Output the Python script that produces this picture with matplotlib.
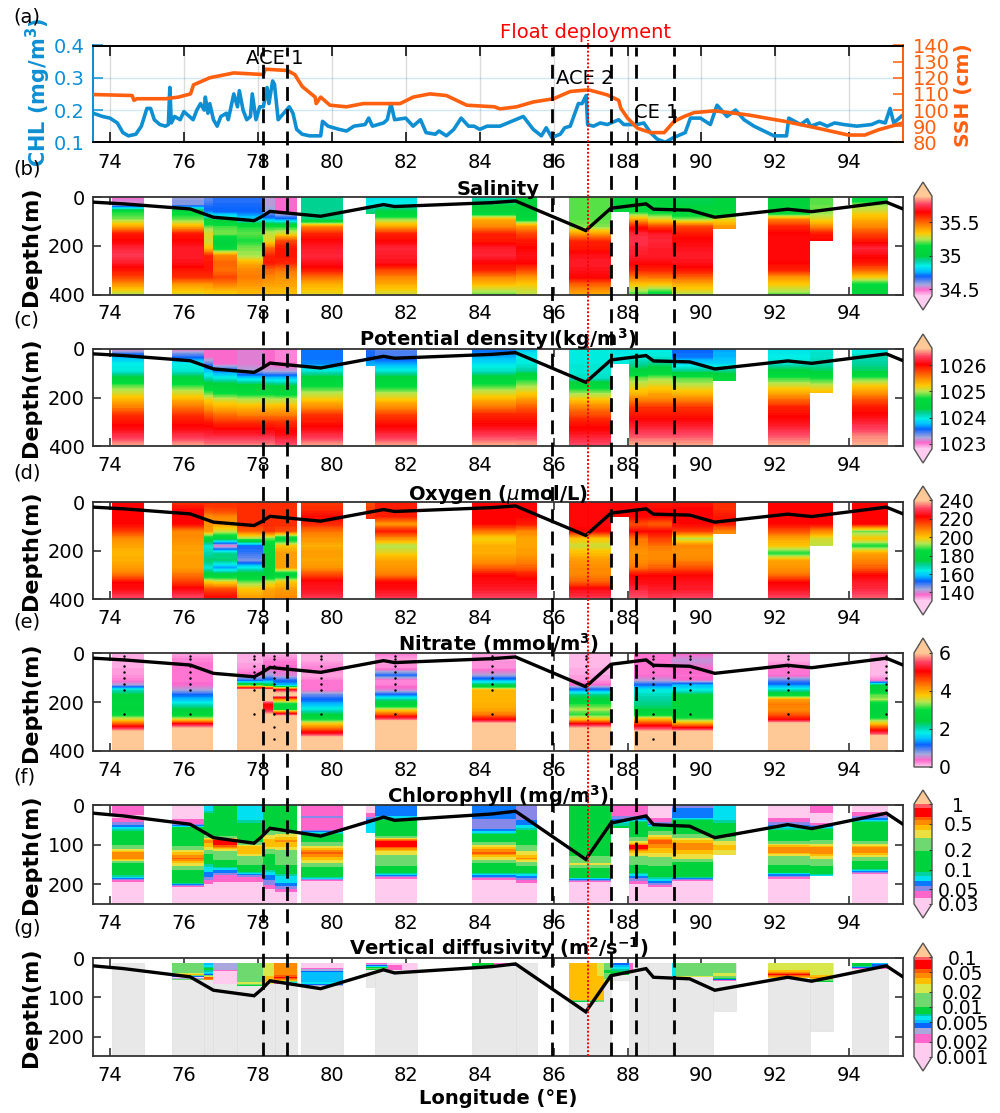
import numpy as np
import matplotlib
matplotlib.use("Agg")
import matplotlib.pyplot as plt
from matplotlib.colors import LinearSegmentedColormap, ListedColormap, BoundaryNorm, Normalize
from matplotlib.cm import ScalarMappable
from matplotlib.patches import Rectangle

# surface section (a)
CHL_LON = [73.55,73.8,74.0,74.2,74.35,74.5,74.7,74.85,75.0,75.1,75.2,75.35,75.5,75.58,75.62,75.66,75.75,75.9,76.0,76.15,76.25,76.35,76.45,76.55,76.58,76.65,76.7,76.8,76.9,77.0,77.15,77.2,77.35,77.45,77.5,77.6,77.7,77.8,77.85,77.95,78.05,78.15,78.25,78.3,78.4,78.45,78.55,78.7,78.85,78.95,79.05,79.2,79.4,79.6,79.7,79.75,79.9,80.2,80.4,80.6,80.9,81.0,81.1,81.4,81.5,81.6,81.7,82.0,82.2,82.4,82.55,82.8,82.9,83.1,83.3,83.5,83.7,83.85,84.0,84.2,84.55,85.18,85.45,85.67,85.8,85.95,86.18,86.3,86.45,86.67,86.77,86.88,86.92,87.08,87.26,87.45,87.76,87.9,88.26,88.44,88.62,88.8,89.02,89.25,89.56,89.7,89.97,90.24,90.42,90.69,90.92,91.15,91.42,91.69,91.96,92.3,92.36,92.68,92.86,92.95,93.2,93.4,93.6,93.85,94.2,94.6,94.8,94.97,95.1,95.2,95.45]
CHL_VAL = [.19,.18,.175,.16,.13,.12,.125,.15,.205,.205,.17,.155,.15,.155,.27,.16,.18,.17,.195,.18,.17,.2,.22,.2,.24,.19,.22,.17,.15,.18,.19,.17,.25,.21,.26,.2,.17,.18,.25,.17,.21,.21,.27,.22,.29,.28,.17,.19,.21,.19,.14,.125,.12,.12,.12,.165,.15,.14,.135,.15,.155,.175,.15,.16,.17,.22,.17,.175,.15,.17,.13,.125,.135,.12,.14,.175,.15,.15,.14,.15,.15,.18,.14,.12,.145,.115,.125,.145,.15,.22,.22,.245,.155,.15,.16,.155,.17,.155,.155,.16,.13,.11,.1,.115,.13,.175,.175,.155,.215,.18,.2,.17,.15,.135,.12,.12,.175,.155,.17,.15,.16,.15,.16,.155,.15,.155,.165,.16,.205,.16,.185]
SSH_LON = [73.55,74.6,74.65,74.73,75.5,75.85,76.18,76.26,76.7,77.35,78.15,78.2,78.8,79.0,79.2,79.55,79.58,79.7,79.95,80.4,80.85,81.85,82.2,82.65,83.1,83.65,84.4,84.55,85.0,85.45,86.0,86.45,86.95,87.45,87.76,87.82,88.0,88.27,88.63,88.99,89.26,89.53,89.8,90.35,91.25,92.25,93.15,93.97,94.42,94.78,95.45]
SSH_VAL = [109.6,109,106,107,107,108,110,115.6,120,123,122,125.3,124.5,122,114.6,108,104,108,103,102,104,104,108,110,109,103,102,100.7,102,105,107,111.5,112.5,109.4,106,101,95,88.7,86,86,93,96,98.4,99.5,97,93,88.7,84.5,84.5,87.7,92]

# mixed layer depth, black line on every section
MLD_LON = [73.55,74.37,76.17,76.8,77.9,78.1,78.33,79.7,81.4,81.7,84.33,84.97,86.87,87.55,88.5,88.7,89.68,90.36,92.33,92.98,95.0,95.45]
MLD_DEPTH = [20,27,48,82,96,80,58,78,30,38,22,15,137,45,27,49,53,82,49,59,20,48]

EDDY_LON = [78.15,78.8,85.95,87.55,88.22,89.25]
FLOAT_LON = 86.94

# profile columns shared by salinity, density, oxygen, chlorophyll
COL_WEST = [74.05,75.68,76.55,76.78,77.43,78.15,78.47,79.18,80.93,81.18,83.8,84.97,86.42,87.55,88.05,88.54,89.2,90.3,91.8,92.93,94.06]
COL_EAST = [74.93,76.55,76.78,77.43,78.15,78.47,79.05,80.31,81.18,82.3,84.97,85.55,87.55,88.05,88.54,89.2,90.3,90.93,92.93,93.55,95.05]
COL_BOTTOM = [400,400,400,400,400,400,400,400,70,400,400,400,400,60,400,400,400,130,400,180,400]

DEPTH_400 = [0,30,60,90,120,150,180,210,240,270,300,330,360,400]

SAL_VALUES = [
    [34.5,34.55,35.15,35.22,35.4,35.62,35.65,35.72,35.75,35.7,35.62,35.55,35.42,35.25],
    [34.58,34.6,35.12,35.2,35.38,35.62,35.65,35.7,35.7,35.68,35.62,35.58,35.42,35.3],
    [34.62,34.66,34.72,34.98,35.2,35.3,35.28,35.35,35.6,35.62,35.62,35.58,35.42,35.32],
    [34.66,34.68,34.7,34.95,35.18,35.22,35.0,35.1,35.45,35.5,35.48,35.55,35.45,35.32],
    [34.66,34.68,34.7,34.8,35.15,35.2,35.15,35.22,35.24,35.38,35.45,35.47,35.42,35.35],
    [34.56,34.56,34.58,34.75,35.15,35.27,35.3,35.5,35.6,35.62,35.5,35.45,35.4,35.35],
    [34.5,34.5,34.5,34.72,35.15,35.3,35.55,35.62,35.62,35.6,35.48,35.43,35.4,35.35],
    [34.93,34.93,34.93,34.95,35.45,35.6,35.66,35.7,35.72,35.68,35.62,35.48,35.38,35.3],
    [34.82,34.85,34.95,35.0],
    [34.83,34.85,35.02,35.22,35.4,35.6,35.65,35.72,35.7,35.68,35.55,35.45,35.38,35.28],
    [34.9,34.98,35.02,35.38,35.45,35.6,35.62,35.7,35.72,35.65,35.6,35.45,35.35,35.2],
    [35.0,35.0,35.0,35.1,35.42,35.55,35.62,35.65,35.68,35.65,35.55,35.42,35.33,35.25],
    [35.2,35.2,35.2,35.2,35.22,35.42,35.6,35.62,35.68,35.7,35.68,35.65,35.5,35.38],
    [35.0,35.02,35.05,35.1],
    [35.02,35.02,35.15,35.38,35.62,35.72,35.74,35.72,35.7,35.66,35.6,35.47,35.34,35.18],
    [35.02,35.02,35.12,35.3,35.55,35.7,35.72,35.7,35.7,35.66,35.6,35.48,35.33,35.1],
    [34.98,34.98,35.05,35.22,35.55,35.62,35.66,35.68,35.7,35.68,35.62,35.5,35.38,35.25],
    [35.02,35.02,35.05,35.3,35.42,35.45],
    [35.0,35.0,35.02,35.45,35.6,35.65,35.66,35.66,35.66,35.65,35.6,35.42,35.33,35.2],
    [35.2,35.2,35.22,35.3,35.45,35.62,35.65],
    [35.05,35.22,35.3,35.38,35.45,35.55,35.62,35.72,35.66,35.62,35.5,35.32,35.12,35.02],
]

DEN_VALUES = [
    [1023.05,1023.7,1023.95,1024.0,1024.4,1024.85,1025.1,1025.35,1025.55,1025.85,1025.98,1026.1,1026.3,1026.62],
    [1023.03,1023.5,1023.95,1024.02,1024.4,1024.8,1025.1,1025.35,1025.6,1025.85,1025.98,1026.1,1026.3,1026.6],
    [1023.03,1023.03,1023.4,1023.8,1024.1,1024.5,1024.85,1025.2,1025.45,1025.7,1025.95,1026.1,1026.25,1026.55],
    [1023.03,1023.03,1023.05,1023.6,1024.0,1024.45,1024.7,1025.1,1025.35,1025.6,1025.85,1026.05,1026.25,1026.55],
    [1023.1,1023.1,1023.1,1023.25,1023.85,1024.4,1024.65,1025.05,1025.3,1025.55,1025.85,1026.05,1026.25,1026.55],
    [1023.05,1023.05,1023.05,1023.2,1023.8,1024.35,1024.65,1025.05,1025.3,1025.55,1025.85,1026.05,1026.25,1026.55],
    [1022.98,1022.98,1023.0,1023.2,1023.8,1024.3,1024.6,1025.05,1025.3,1025.55,1025.85,1026.0,1026.15,1026.45],
    [1023.58,1023.6,1023.62,1024.0,1024.45,1024.7,1025.0,1025.25,1025.5,1025.85,1025.95,1026.1,1026.3,1026.6],
    [1023.5,1023.55,1023.7,1023.8],
    [1023.4,1023.45,1023.7,1024.0,1024.45,1024.65,1025.0,1025.25,1025.5,1025.8,1025.95,1026.1,1026.3,1026.6],
    [1023.55,1023.7,1023.9,1024.05,1024.45,1024.8,1025.1,1025.35,1025.6,1025.9,1026.0,1026.15,1026.35,1026.62],
    [1023.8,1023.95,1024.0,1024.15,1024.7,1024.95,1025.2,1025.45,1025.7,1025.9,1026.0,1026.15,1026.35,1026.6],
    [1024.0,1024.0,1024.0,1024.02,1024.05,1024.6,1024.95,1025.25,1025.55,1025.75,1025.95,1026.05,1026.2,1026.4],
    [1023.9,1023.95,1024.0,1024.0],
    [1023.95,1023.98,1024.15,1024.4,1024.9,1025.1,1025.3,1025.55,1025.85,1025.95,1026.1,1026.25,1026.4,1026.62],
    [1023.95,1024.0,1024.2,1024.5,1024.95,1025.15,1025.35,1025.55,1025.85,1025.95,1026.1,1026.25,1026.4,1026.62],
    [1023.55,1023.6,1023.85,1024.2,1024.85,1025.05,1025.3,1025.55,1025.85,1025.95,1026.1,1026.25,1026.4,1026.6],
    [1023.7,1023.72,1023.85,1024.2,1024.55,1024.7],
    [1023.9,1023.95,1024.05,1024.4,1024.8,1025.1,1025.35,1025.65,1025.92,1026.0,1026.1,1026.25,1026.4,1026.6],
    [1024.02,1024.05,1024.1,1024.3,1024.75,1025.05,1025.3],
    [1023.9,1024.1,1024.15,1024.3,1024.85,1025.2,1025.45,1025.75,1025.95,1026.05,1026.2,1026.35,1026.5,1026.62],
]

OXY_VALUES = [
    [222,222,222,222,216,207,204,202,203,205,210,222,224,232],
    [217,222,222,222,208,207,205,204,205,205,210,216,224,232],
    [218,215,207,207,205,180,165,168,172,165,178,200,215,224],
    [217,216,208,205,195,178,138,170,172,156,178,198,215,224],
    [218,218,218,218,212,192,152,150,146,164,178,190,200,206],
    [218,218,218,218,216,190,180,180,178,178,176,195,204,206],
    [218,218,218,218,214,178,200,205,205,205,178,200,205,208],
    [216,218,222,218,210,206,203,205,204,206,215,224,225,230],
    [214,216,218,218],
    [219,219,219,206,220,206,193,198,204,206,209,222,224,230],
    [222,222,222,222,210,198,203,203,206,212,222,224,226,232],
    [222,222,222,220,208,204,204,205,208,212,220,224,226,232],
    [223,223,223,223,222,200,195,201,205,207,208,212,224,230],
    [222,222,222,222],
    [222,222,222,214,222,210,208,206,207,210,222,224,228,233],
    [220,222,222,212,222,216,210,207,208,212,222,224,226,230],
    [221,222,222,222,216,194,208,206,208,214,222,225,226,232],
    [218,218,220,220,208,206],
    [222,222,222,222,214,204,200,186,204,206,210,222,225,232],
    [222,222,222,222,208,196,194],
    [222,222,222,222,190,200,186,204,208,212,222,226,228,234],
]

# nitrate
NIT_WEST = [74.05,75.68,77.43,78.15,78.4,79.18,81.18,83.8,86.42,88.17,89.2,91.8,94.55]
NIT_EAST = [74.93,76.78,78.15,78.4,79.05,80.31,82.3,84.97,87.55,89.2,90.3,92.93,95.05]
NIT_BOTTOM = [400,400,400,400,400,400,400,400,400,400,400,400,400]
NIT_DEPTH = [0,30,60,90,110,130,150,170,190,210,230,250,270,290,310,330,350,400]
NIT_VALUES = [
    [.1,.12,.15,.2,.3,.7,2.0,2.4,2.6,2.7,2.6,2.9,3.6,4.6,5.6,6.5,7],
    [.15,.3,.32,.32,.33,.4,.65,1.2,1.5,2.0,2.4,2.7,3.6,5.2,6.2,7],
    [.1,.12,.2,.4,1.1,3.0,6.5,7],
    [.1,.3,.4,.7,1.3,2.6,6.3,7,6.2,5.0,5.2,6.0,7],
    [.1,.3,.4,.5,1.1,1.5,5.3,6.5,4.0,2.8,3.0,5.5,7],
    [.15,.15,.3,.15,.3,.35,.35,.9,1.2,1.5,1.9,2.4,3.0,3.8,4.5,5.3,6.5,7],
    [.3,.15,.25,1.1,.3,.3,.5,1.2,2.2,2.6,3.6,4.5,5.6,7],
    [.15,.2,.25,.7,1.4,2.4,3.9,3.9,3.9,3.95,4.0,4.3,5.0,6.2,7],
    [.1,.1,.1,.15,.2,.4,1.3,2.2,2.5,3.1,3.4,3.1,3.8,5.2,6.2,7],
    [.3,.35,.35,.35,.6,1.2,1.8,2.0,2.1,2.2,2.4,2.8,3.9,4.8,5.6,6.5,7],
    [.35,.6,.4,.35,.4,1.5,1.8,2.4,2.5,2.5,2.5,2.5,3.2,4.2,5.4,6.8,7],
    [.15,.15,.3,.35,.9,1.3,2.0,2.8,4.1,4.3,4.2,4.5,5.0,6.4,7],
    [.1,.1,.1,.1,.3,2.4,2.6,3.2,3.4,2.6,2.5,2.5,3.2,3.9,4.8,5.6,6.8,7],
]
NIT_SAMPLE_LON = [74.37,76.17,77.9,78.45,79.7,81.7,84.33,86.87,88.7,89.68,92.33,95.0]
NIT_SAMPLE_DEPTH = [10,25,50,75,100,125,150,250]
NIT_EXTRA_LON = [78.45,78.45,88.7]
NIT_EXTRA_DEPTH = [300,350,350]

# chlorophyll
CHL_DEPTH = [0,15,30,45,60,75,90,105,120,135,150,165,180,195,210,225,250]
CHL_BOTTOM = [250,250,250,250,250,250,250,250,70,250,250,250,250,58,250,250,250,127,250,178,250]
CHL_VALUES = [
    [.042,.042,.035,.05,.08,.13,.14,.22,.52,.5,.15,.13,.085,.035,.025],
    [.033,.033,.035,.042,.12,.14,.14,.2,.42,.58,.35,.17,.13,.12,.025],
    [.07,.08,.12,.13,.13,.18,.55,.4,.22,.13,.09,.07,.06,.042,.03,.025],
    [.12,.12,.12,.12,.12,.14,.75,.6,.25,.22,.12,.065,.045,.038,.025],
    [.075,.075,.075,.09,.12,.12,.14,.42,.45,.22,.2,.12,.05,.038,.025],
    [.12,.12,.12,.12,.14,.3,.45,.4,.2,.15,.13,.09,.06,.055,.04,.025],
    [.12,.12,.12,.12,.13,.35,.5,.42,.22,.22,.2,.11,.08,.07,.052,.03,.025],
    [.042,.042,.05,.04,.042,.1,.16,.35,.62,.45,.25,.13,.12,.025],
    [.033,.033,.05,.075,.08,.08],
    [.058,.06,.07,.12,.14,.14,.7,.65,.35,.22,.21,.14,.05,.025],
    [.065,.065,.06,.05,.055,.1,.15,.4,.62,.35,.16,.12,.06,.03,.025],
    [.055,.055,.055,.06,.085,.12,.14,.22,.35,.5,.22,.13,.065,.04,.025],
    [.13,.13,.13,.13,.13,.13,.13,.14,.16,.22,.33,.14,.12,.035,.025],
    [.042,.042,.05,.08,.1,.1],
    [.042,.042,.05,.1,.13,.14,.3,.8,.4,.25,.2,.13,.065,.045,.025],
    [.033,.033,.035,.05,.14,.3,.65,.5,.42,.25,.22,.13,.1,.06,.035,.025],
    [.055,.06,.065,.12,.13,.2,.45,.55,.42,.3,.13,.12,.11,.025],
    [.075,.075,.075,.09,.13,.15,.3,.45,.35,.33],
    [.033,.033,.035,.05,.085,.13,.18,.5,.52,.22,.2,.13,.05,.025],
    [.04,.04,.033,.038,.09,.13,.2,.48,.55,.3,.21,.13,.07,.05],
    [.033,.036,.05,.1,.13,.13,.18,.48,.52,.25,.13,.08,.025],
]

# vertical diffusivity
KZ_GREY_TOP = 13
KZ_GREY_BOTTOM = [250,250,250,250,250,250,250,250,75,250,250,250,250,55,250,250,250,135,250,185,250]
KZ_WEST = [75.68,76.55,76.78,77.43,78.15,78.45,79.18,80.93,81.5,81.9,83.8,84.4,86.42,87.17,87.35,87.55,88.05,89.2,89.3,90.3,91.8,92.93,94.06,94.6]
KZ_EAST = [76.55,76.78,77.43,78.15,78.45,79.05,80.31,81.5,81.9,82.3,84.4,85.0,87.17,87.35,87.55,88.05,88.15,89.3,90.3,90.93,92.93,93.55,94.6,95.05]
KZ_BOTTOM = [57,57,67,72,65,65,72,30,30,30,23,21,112,112,60,42,35,45,48,58,52,60,27,28]
KZ_DEPTH = [13,20,28,35,42,50,58,65,72,80,105,112]
KZ_VALUES = [
    [.014,.014,.014,.014,.03,.0015,.04,.006],
    [.005,.006,.008,.0065,.0045,.06,.04,.005],
    [.0035,.0035,.0035,.0012,.0012,.0012,.0012,.0012],
    [.014,.014,.014,.014,.014,.014,.014,.025,.005],
    [.025,.025,.025,.025,.025,.034,.034,.022],
    [.045,.045,.045,.045,.045,.06,.034,.002],
    [.0012,.0012,.0025,.0052,.0052,.0052,.0052,.0065,.0022],
    [.0025,.005,.012,.0014],
    [.0014,.0025,.0025,.0014],
    [.0012,.0012,.0012,.0012],
    [.009,.009,.0025],
    [.0022,.0045,.002],
    [.032,.032,.032,.032,.032,.032,.032,.032,.032,.032,.032,.007],
    [.025,.025,.025,.025,.025,.034,.034,.034,.034,.034,.034,.008],
    [.012,.013,.012,.008,.012,.014,.025,.03],
    [.0045,.005,.0065,.008,.01],
    [.0022,.0022,.002,.002],
    [.006,.006,.006,.006,.006],
    [.014,.014,.014,.014,.015,.025,.002],
    [.014,.014,.014,.015,.024,.015,.002],
    [.024,.024,.024,.034,.06,.034,.002],
    [.023,.023,.023,.023,.024,.05,.009],
    [.009,.009,.002],
    [.005,.0045,.002],
]

LON_TICKS = [74,76,78,80,82,84,86,88,90,92,94]
XLIM = (73.55,95.45)

CMAP_POS = [0,.06,.11,.195,.245,.30,.35,.40,.50,.57,.63,.70,.78,.84,.92,1]
CMAP_COLORS = ["#FFCCEF","#FF66CC","#A8A8DC","#0A64FF","#00BEFF","#00F0E6","#00D2A0","#00D23C","#00DC3C","#B4E650","#FFC800","#FF8C00","#FF3C00","#FF0000","#FF4060","#FFC896"]
CHL_LEVELS = [.03,.0375,.048,.057,.068,.081,.091,.19,.30,.40,.48,.57,.64,.88,1]
KZ_LEVELS = [.001,.00193,.00284,.00374,.00487,.0056,.00662,.00736,.01,.0193,.0284,.0386,.0486,.0567,.077,.0858,.1]
CHL_COLORS = ["#FFCCEF","#FF66CC","#8888E8","#0A78FF","#00E0F0","#00D2A0","#00D23C","#6ED96E","#ECE040","#FFBE00","#FF8C00","#FF5A00","#FF0000","#FF5A64"]
KZ_COLORS = ["#FFCCEF","#FF66CC","#A8A8DC","#0A64FF","#00BEFF","#00E6F0","#00C8A0","#00D23C","#6ED96E","#D8E84A","#FFBE00","#FF8C00","#FF5A00","#FF0000","#FF0000","#FF5A64"]

BLUE = "#0F8FD2"
ORANGE = "#FF6010"
W, H = 1000, 1113


def axpos(left, top, right, bottom):
    return [left/W, 1-bottom/H, (right-left)/W, (bottom-top)/H]


plt.rcParams['font.size'] = 14
plt.rcParams['mathtext.default'] = 'regular'

fig = plt.figure(figsize=(10, 11.13), dpi=100)

cmap = LinearSegmentedColormap.from_list("eddy", list(zip(CMAP_POS, CMAP_COLORS)), N=256)
cmap.set_under(CMAP_COLORS[0])
cmap.set_over(CMAP_COLORS[-1])


def style_section(ax, title, ylim, yticks):
    ax.set_xlim(*XLIM)
    ax.set_ylim(ylim, 0)
    ax.set_xticks(LON_TICKS)
    ax.set_yticks(yticks)
    ax.set_axisbelow(True)
    ax.tick_params(direction='in', top=True, right=True, length=6, width=1.1, labelsize=14, pad=6, color='#222222')
    ax.tick_params(axis='x', pad=7)
    for s in ax.spines.values():
        s.set_linewidth(1.3)
        s.set_color('#333333')
    ax.set_ylabel("Depth(m)", fontweight='bold', fontsize=16)
    ax.yaxis.set_label_coords(-0.0645, 0.5)
    ax.set_title(title, fontweight='bold', fontsize=14, pad=2)
    ax.plot(MLD_LON, MLD_DEPTH, color='k', lw=2.4, zorder=5, solid_joinstyle='miter')


def draw_section(ax, west, east, bottom, depth, values, levels, use_cmap, norm, log=False):
    depth = np.array(depth, dtype=float)
    for x0, x1, b, row in zip(west, east, bottom, values):
        row = list(row) + [row[-1]]*(len(depth)-len(row))
        v = np.array(row, dtype=float)
        if log:
            v = np.log10(v)
        cs = ax.contourf([x0, x1], depth, np.column_stack([v, v]), levels=levels, cmap=use_cmap, norm=norm, extend='both', zorder=1)
        cs.set_clip_path(Rectangle((x0, depth[0]), x1-x0, b-depth[0], transform=ax.transData))


def add_colorbar(top, bottom, use_cmap, norm, ticks, labels, extend='both', spacing='uniform', frac=14/99, center_pad=None):
    cax = fig.add_axes(axpos(914, top, 932, bottom))
    cb = fig.colorbar(ScalarMappable(norm=norm, cmap=use_cmap), cax=cax, extend=extend, extendfrac=frac, spacing=spacing)
    cb.set_ticks(ticks)
    cb.set_ticklabels(labels)
    cb.minorticks_off()
    cb.outline.set_edgecolor('#555555')
    cb.outline.set_linewidth(1)
    cb.ax.tick_params(direction='in', length=2, width=0.8, labelsize=13.5, pad=5, color='#333333')
    if center_pad:
        cb.ax.tick_params(pad=center_pad)
        for t in cb.ax.get_yticklabels():
            t.set_ha('center')
    return cb


# (a)
ax = fig.add_axes(axpos(93.3, 45.5, 903, 142.3))
ax.set_xlim(*XLIM)
ax.set_ylim(0.1, 0.4)
ax.set_xticks(LON_TICKS)
ax.set_yticks([.1,.2,.3,.4])
ax.set_yticklabels(['0.1','0.2','0.3','0.4'])
for x in LON_TICKS:
    ax.axvline(x, color='#bbbbbb', lw=1, alpha=0.5, zorder=0.5)
for y in [.2,.3]:
    ax.axhline(y, color=BLUE, lw=1, alpha=0.2, zorder=0.5)
ax.plot(CHL_LON, CHL_VAL, color=BLUE, lw=2.6, zorder=2)
ax.tick_params(axis='x', direction='in', top=True, length=7, width=1.1, labelsize=14, pad=8)
ax.tick_params(axis='y', direction='in', length=7, width=1.1, color=BLUE, labelcolor=BLUE, labelsize=14, pad=6)
ax2 = ax.twinx()
ax2.set_ylim(80, 140)
ax2.set_yticks([80,90,100,110,120,130,140])
ax2.plot(SSH_LON, SSH_VAL, color=ORANGE, lw=2.6, zorder=3)
ax2.tick_params(axis='y', direction='in', length=7, width=1.1, color=ORANGE, labelcolor=ORANGE, labelsize=14, pad=7)
for a in [ax, ax2]:
    a.spines['top'].set_linewidth(1.3)
    a.spines['bottom'].set_linewidth(1.3)
    a.spines['left'].set_color(BLUE)
    a.spines['left'].set_linewidth(1.3)
    a.spines['right'].set_color(ORANGE)
    a.spines['right'].set_linewidth(1.3)
fig.text(38/W, 1-92/H, "CHL (mg/m$^{\\mathbf{3}}$)", color=BLUE, fontweight='bold', fontsize=15, rotation=90, ha='center', va='center')
fig.text(964/W, 1-95/H, "SSH (cm)", color=ORANGE, fontweight='bold', fontsize=14.5, rotation=90, ha='center', va='center')
fig.text(275/W, 1-59/H, "ACE 1", ha='center', va='center', fontsize=14, zorder=6)
fig.text(585/W, 1-78/H, "ACE 2", ha='center', va='center', fontsize=14, zorder=6)
fig.text(656/W, 1-112/H, "CE 1", ha='center', va='center', fontsize=14, zorder=6)
fig.text(586/W, 1-33/H, "Float deployment", color='#ff0000', ha='center', va='center', fontsize=14)

# (b) salinity
sal_norm = Normalize(34.4, 35.89)
sal_levels = np.linspace(34.4, 35.89, 120)
ax = fig.add_axes(axpos(93.3, 197.3, 903, 294.5))
draw_section(ax, COL_WEST, COL_EAST, COL_BOTTOM, DEPTH_400, SAL_VALUES, sal_levels, cmap, sal_norm)
style_section(ax, "Salinity", 400, [0,200,400])
add_colorbar(182, 310, cmap, sal_norm, [34.5,35,35.5], ['34.5','35','35.5'])

# (c) density
den_norm = Normalize(1022.8, 1026.66)
den_levels = np.linspace(1022.8, 1026.66, 120)
ax = fig.add_axes(axpos(93.3, 349, 903, 446.3))
draw_section(ax, COL_WEST, COL_EAST, COL_BOTTOM, DEPTH_400, DEN_VALUES, den_levels, cmap, den_norm)
style_section(ax, "Potential density (kg/m$^{\\mathbf{3}}$)", 400, [0,200,400])
add_colorbar(334, 463, cmap, den_norm, [1023,1024,1025,1026], ['1023','1024','1025','1026'])

# (d) oxygen
oxy_norm = Normalize(131, 240)
oxy_levels = np.linspace(131, 240, 120)
ax = fig.add_axes(axpos(93.3, 502.3, 903, 599))
draw_section(ax, COL_WEST, COL_EAST, COL_BOTTOM, DEPTH_400, OXY_VALUES, oxy_levels, cmap, oxy_norm)
style_section(ax, "Oxygen ($\\mathit{\\mu}$mol/L)", 400, [0,200,400])
add_colorbar(486, 615, cmap, oxy_norm, [140,160,180,200,220,240], ['140','160','180','200','220','240'])

# (e) nitrate
nit_norm = Normalize(0, 6)
nit_levels = np.linspace(0, 6, 120)
ax = fig.add_axes(axpos(93.3, 653.3, 903, 751))
draw_section(ax, NIT_WEST, NIT_EAST, NIT_BOTTOM, NIT_DEPTH, NIT_VALUES, nit_levels, cmap, nit_norm)
for x in NIT_SAMPLE_LON:
    ax.plot([x]*len(NIT_SAMPLE_DEPTH), NIT_SAMPLE_DEPTH, ls='none', marker='.', ms=1.5, color='k', zorder=4)
ax.plot(NIT_EXTRA_LON, NIT_EXTRA_DEPTH, ls='none', marker='.', ms=1.5, color='k', zorder=4)
style_section(ax, "Nitrate (mmol/m$^{\\mathbf{3}}$)", 400, [0,200,400])
add_colorbar(638, 767, cmap, nit_norm, [0,2,4,6], ['0','2','4','6'], extend='max', frac=15/114)

# (f) chlorophyll, log scale
chl_levels = np.log10(CHL_LEVELS)
chl_cmap = ListedColormap(CHL_COLORS)
chl_cmap.set_under(CHL_COLORS[0])
chl_cmap.set_over("#FFC896")
chl_norm = BoundaryNorm(chl_levels, chl_cmap.N, extend='neither')
ax = fig.add_axes(axpos(93.3, 805.3, 903, 904))
draw_section(ax, COL_WEST, COL_EAST, CHL_BOTTOM, CHL_DEPTH, CHL_VALUES, chl_levels, chl_cmap, chl_norm, log=True)
style_section(ax, "Chlorophyll (mg/m$^{\\mathbf{3}}$)", 250, [0,100,200])
add_colorbar(790, 918, chl_cmap, chl_norm, np.log10([.03,.05,.1,.2,.5,1]), ['0.03','0.05','0.1','0.2','0.5','1'], spacing='proportional', center_pad=19)

# (g) diffusivity, log scale
kz_levels = np.log10(KZ_LEVELS)
kz_cmap = ListedColormap(KZ_COLORS)
kz_cmap.set_under(KZ_COLORS[0])
kz_cmap.set_over("#FFC896")
kz_norm = BoundaryNorm(kz_levels, kz_cmap.N, extend='neither')
ax = fig.add_axes(axpos(93.3, 958, 903, 1056.3))
grey_w = np.array(COL_EAST) - np.array(COL_WEST)
ax.bar(COL_WEST, np.array(KZ_GREY_BOTTOM)-KZ_GREY_TOP, width=grey_w, bottom=KZ_GREY_TOP, align='edge', color='#E8E8E8', edgecolor='#DDDDDD', linewidth=0.4, zorder=0.8)
draw_section(ax, KZ_WEST, KZ_EAST, KZ_BOTTOM, KZ_DEPTH, KZ_VALUES, kz_levels, kz_cmap, kz_norm, log=True)
style_section(ax, "Vertical diffusivity (m$^{\\mathbf{2}}$/s$^{\\mathbf{-1}}$)", 250, [0,100,200])
ax.set_xlabel("Longitude (°E)", fontweight='bold', fontsize=14, labelpad=3)
add_colorbar(943, 1071, kz_cmap, kz_norm, np.log10([.001,.002,.005,.01,.02,.05,.1]), ['0.001','0.002','0.005','0.01','0.02','0.05','0.1'], spacing='proportional', center_pad=22)

for label, y in zip(['(a)','(b)','(c)','(d)','(e)','(f)','(g)'], [17,169,320,473,622,777,929]):
    fig.text(13/W, 1-y/H, label, ha='left', va='center', fontsize=14)

# eddy edges and float longitude run through all panels
over = fig.add_axes(axpos(93.3, 40, 903, 1056.3), facecolor='none', zorder=10)
over.set_xlim(*XLIM)
over.set_ylim(0, 1)
over.axis('off')
over.vlines(EDDY_LON, 0, 0.9935, colors='k', linewidth=2.0, linestyles=[(0, (5, 3))])
over.vlines([FLOAT_LON], 0, 1, colors='#ff0000', linewidth=1.4, linestyles=[(0, (1, 1))])

fig.savefig("out.png", dpi=100)
